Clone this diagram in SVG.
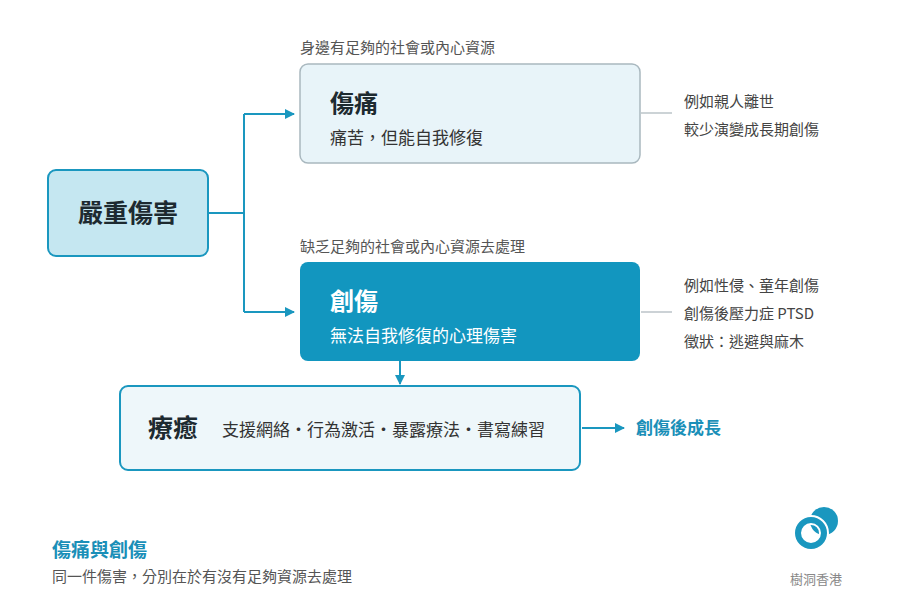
<svg xmlns="http://www.w3.org/2000/svg" width="900" height="600" viewBox="0 0 900 600">
<style>
text{font-family:"Noto Sans CJK TC","Noto Sans CJK SC",sans-serif}
.cap{font-size:15px;fill:#555}
.note{font-size:15px;fill:#444}
.ln{stroke:#1a97bf;stroke-width:2;fill:none}
.gl{stroke:#aab5bb;stroke-width:1.2}
</style>
<defs><marker id="ah" markerWidth="10" markerHeight="10" refX="9" refY="5" orient="auto" markerUnits="userSpaceOnUse"><path d="M0,0 L10,5 L0,10 z" fill="#1a97bf"/></marker></defs>
<rect width="900" height="600" fill="#fff"/>
<g id="connectors">
<path class="ln" d="M208,213 H244 M244,114 V312"/>
<path class="ln" d="M244,114 H294" marker-end="url(#ah)"/>
<path class="ln" d="M244,312 H294" marker-end="url(#ah)"/>
<path class="ln" d="M400,361 V384" marker-end="url(#ah)"/>
<path class="ln" d="M582,428 H624" marker-end="url(#ah)"/>
<line class="gl" x1="641" y1="113" x2="672" y2="113"/>
<line class="gl" x1="641" y1="312" x2="672" y2="312"/>
</g>
<g id="severe"><rect x="48" y="170" width="160" height="86" rx="8" fill="#c5e7f1" stroke="#1a97bf" stroke-width="2"/><text x="128" y="222" font-size="25" font-weight="bold" fill="#1d2a30" text-anchor="middle">嚴重傷害</text></g>
<g id="pain"><text class="cap" x="300" y="53">身邊有足夠的社會或內心資源</text><rect x="300" y="64" width="340" height="99" rx="8" fill="#e8f4f9" stroke="#a9b8bf" stroke-width="1.5"/><text x="330" y="112" font-size="24" font-weight="bold" fill="#1d2a30">傷痛</text><text x="330" y="144" font-size="17" fill="#333">痛苦，但能自我修復</text></g>
<g id="pain-note"><text class="note" x="684" y="107">例如親人離世</text><text class="note" x="684" y="135">較少演變成長期創傷</text></g>
<g id="trauma"><text class="cap" x="300" y="252">缺乏足夠的社會或內心資源去處理</text><rect x="300" y="262" width="340" height="99" rx="8" fill="#1296bf"/><text x="330" y="310" font-size="24" font-weight="bold" fill="#fff">創傷</text><text x="330" y="342" font-size="17" fill="#fff">無法自我修復的心理傷害</text></g>
<g id="trauma-note"><text class="note" x="684" y="291">例如性侵、童年創傷</text><text class="note" x="684" y="319">創傷後壓力症 PTSD</text><text class="note" x="684" y="347">徵狀：逃避與麻木</text></g>
<g id="heal"><rect x="120" y="386" width="460" height="84" rx="8" fill="#eef7fa" stroke="#1a97bf" stroke-width="2"/><text x="148" y="437" font-size="25" font-weight="bold" fill="#1d2a30">療癒</text><text x="222" y="436" font-size="17" fill="#333">支援網絡・行為激活・暴露療法・書寫練習</text></g>
<g id="growth"><text x="636" y="434" font-size="17" font-weight="bold" fill="#1a8fb8">創傷後成長</text></g>
<g id="title"><text x="52" y="557" font-size="19" font-weight="bold" fill="#1a8fb8">傷痛與創傷</text><text x="52" y="582" font-size="15" fill="#555">同一件傷害，分別在於有沒有足夠資源去處理</text></g>
<g id="logo"><circle cx="824" cy="521" r="14" fill="#1a97bf"/><circle cx="811" cy="533" r="13" fill="none" stroke="#fff" stroke-width="10"/><circle cx="811" cy="533" r="13" fill="none" stroke="#1a97bf" stroke-width="6"/><text x="816" y="584" font-size="13" fill="#888" text-anchor="middle">樹洞香港</text></g>
</svg>
